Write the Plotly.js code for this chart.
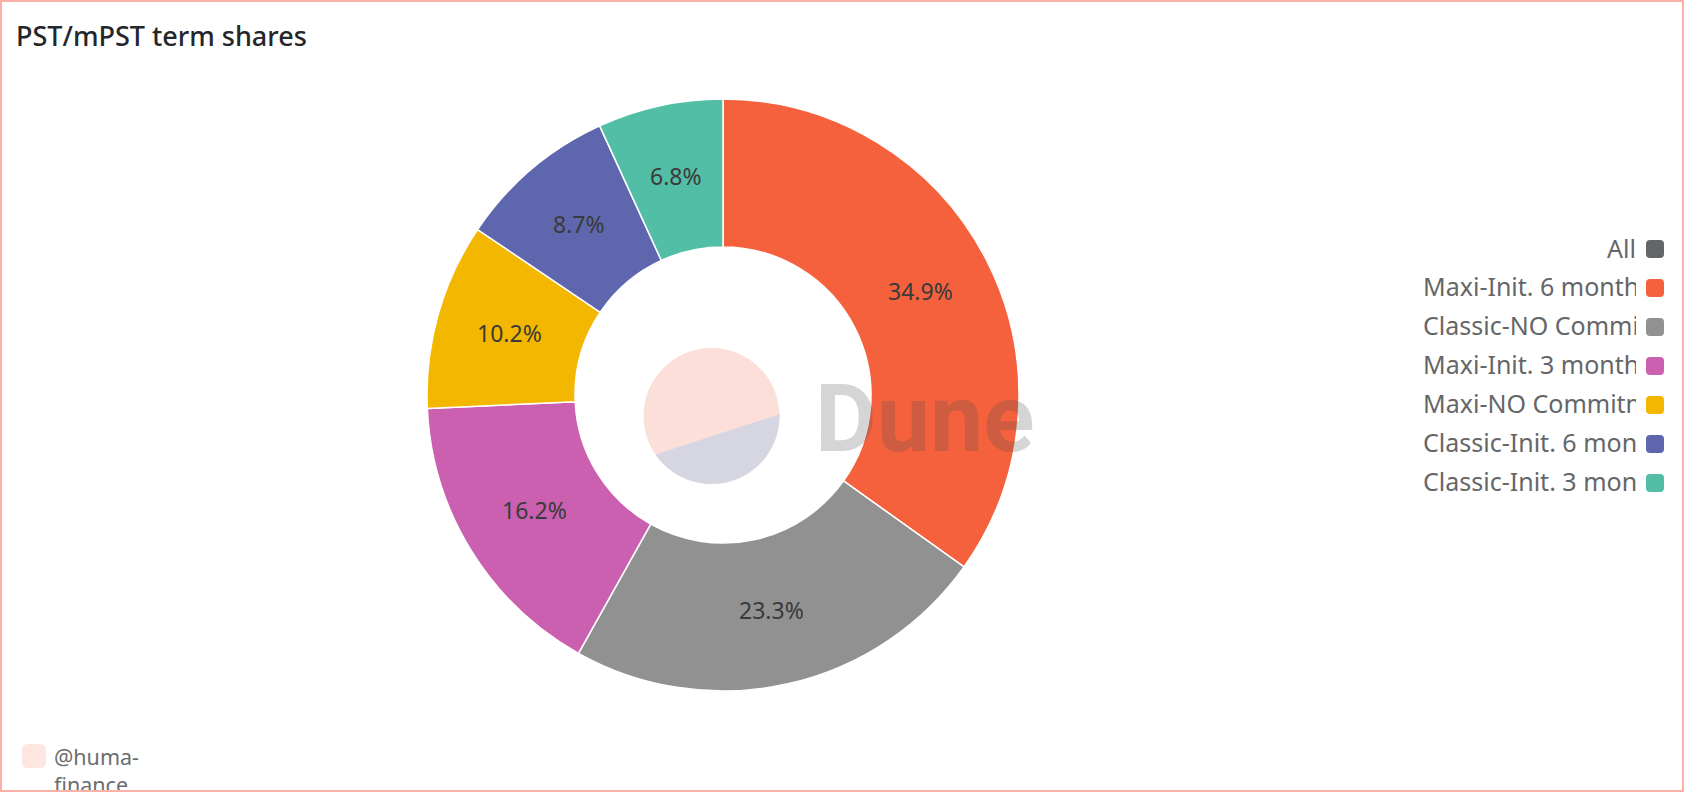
<!DOCTYPE html>
<html><head><meta charset="utf-8">
<script src="https://cdn.plot.ly/plotly-3.0.1.min.js"></script>
<style>
html,body{margin:0;padding:0;background:#fff;overflow:hidden}
#wrap{position:relative;width:1684px;height:792px}
#chart{position:absolute;left:0;top:0;width:1684px;height:792px}
#frame{position:absolute;left:0;top:0;width:1684px;height:792px;box-sizing:border-box;border:2px solid #fbb1a5;pointer-events:none}
</style></head><body>
<div id="wrap"><div id="chart"></div><div id="frame"></div></div>
<script>
const chartTitle = "PST/mPST term shares";
const categories = ["Maxi-Init. 6 months","Classic-NO Commitment","Maxi-Init. 3 months","Maxi-NO Commitment","Classic-Init. 6 months","Classic-Init. 3 months"];
const values = [34.86,23.26,16.16,10.16,8.72,6.84];
const colors = ["#f5613d","#919191","#cb60b1","#f4b700","#5e67ae","#52bea5"];
const legendLabels = ["All"].concat(categories);
const legendColors = ["#636568"].concat(colors);
const W=1684,H=792;
const FONT="'Noto Sans', sans-serif";
const cx=723, cy=395, R=296;
const dom=(c,r)=>({x:[(c[0]-r)/W,(c[0]+r)/W],y:[1-(c[1]+r)/H,1-(c[1]-r)/H]});
const px=x=>x/W, py=y=>1-y/H;

const traces=[
 {type:"pie",labels:categories,values:values,sort:false,direction:"clockwise",rotation:0,hole:0.5,
  marker:{colors:colors,line:{color:"#ffffff",width:1.5}},
  domain:dom([cx,cy],R),textinfo:"none",showlegend:false,hoverinfo:"label+percent"}
];
const annotations=[];
const shapes=[];

// slice percentage labels at mid-ring
const total=values.reduce((a,b)=>a+b,0);
let cum=0;
values.forEach(v=>{
  const mid=(cum+v/2)/total*2*Math.PI; cum+=v;
  annotations.push({xref:"paper",yref:"paper",x:px(cx+0.75*R*Math.sin(mid)),y:py(cy-2-0.75*R*Math.cos(mid)),
    xanchor:"center",yanchor:"middle",showarrow:false,text:(v/total*100).toFixed(1)+"%",
    font:{family:FONT,size:23,color:"#3a3a3a"}});
});

// watermark logo (decoration): circle with a chord-cut lower segment
const lx=711.5,ly=416,lr=68;
shapes.push({type:"circle",xref:"paper",yref:"paper",x0:px(lx-lr),x1:px(lx+lr),y0:py(ly+lr),y1:py(ly-lr),fillcolor:"#fbdfd8",line:{width:0}});
let seg="";
for(let a=-1.5;a<=146.01;a+=3.5){const t=a*Math.PI/180;
  seg+=(seg?" L ":"M ")+px(lx+lr*Math.cos(t))+" "+py(ly+lr*Math.sin(t));}
shapes.push({type:"path",xref:"paper",yref:"paper",path:seg+" Z",fillcolor:"#d6d6e2",line:{width:0}});
annotations.push({xref:"paper",yref:"paper",x:px(813),y:py(418),xanchor:"left",yanchor:"middle",showarrow:false,
  text:"Dune",font:{family:"Roboto, sans-serif",size:95,weight:700,color:"rgba(79,79,79,0.24)"}});

const rounded=(x0,y0,x1,y1,c)=>`M ${px(x0+c)} ${py(y0)} L ${px(x1-c)} ${py(y0)} Q ${px(x1)} ${py(y0)} ${px(x1)} ${py(y0+c)} L ${px(x1)} ${py(y1-c)} Q ${px(x1)} ${py(y1)} ${px(x1-c)} ${py(y1)} L ${px(x0+c)} ${py(y1)} Q ${px(x0)} ${py(y1)} ${px(x0)} ${py(y1-c)} L ${px(x0)} ${py(y0+c)} Q ${px(x0)} ${py(y0)} ${px(x0+c)} ${py(y0)} Z`;

// legend
const rowY=i=>249+i*39;
legendLabels.forEach((t,i)=>{
  const y=rowY(i);
  annotations.push(i===0
   ?{xref:"paper",yref:"paper",x:px(1637.5),y:py(y-1),xanchor:"right",yanchor:"middle",showarrow:false,text:t,font:{family:FONT,size:25,color:"#646668"}}
   :{xref:"paper",yref:"paper",x:px(1422),y:py(y-2),xanchor:"left",yanchor:"middle",showarrow:false,text:t,width:213,height:36,align:"left",borderpad:0,font:{family:FONT,size:25,color:"#646668"}});
  shapes.push({type:"path",xref:"paper",yref:"paper",path:rounded(1646,y-9,1664,y+9,4),fillcolor:legendColors[i],line:{width:0}});
});
// bottom-left creator tag
shapes.push({type:"path",xref:"paper",yref:"paper",path:rounded(22,744,46,768,6),fillcolor:"#fde6df",line:{width:0}});
annotations.push({xref:"paper",yref:"paper",x:px(52),y:py(740),xanchor:"left",yanchor:"top",showarrow:false,align:"left",
  text:"@huma-<br>finance",font:{family:FONT,size:21.5,color:"#6b6d70"}});

Plotly.newPlot("chart",traces,{
  width:W,height:H,margin:{l:0,r:0,t:0,b:0},paper_bgcolor:"#ffffff",plot_bgcolor:"#ffffff",
  title:{text:chartTitle,x:16/W,xref:"paper",xanchor:"left",y:1-37/H,yref:"container",yanchor:"middle",
    font:{family:FONT,size:27,weight:500,color:"#24262a"}},
  showlegend:false,annotations:annotations,shapes:shapes
},{displayModeBar:false,responsive:false});
</script></body></html>
